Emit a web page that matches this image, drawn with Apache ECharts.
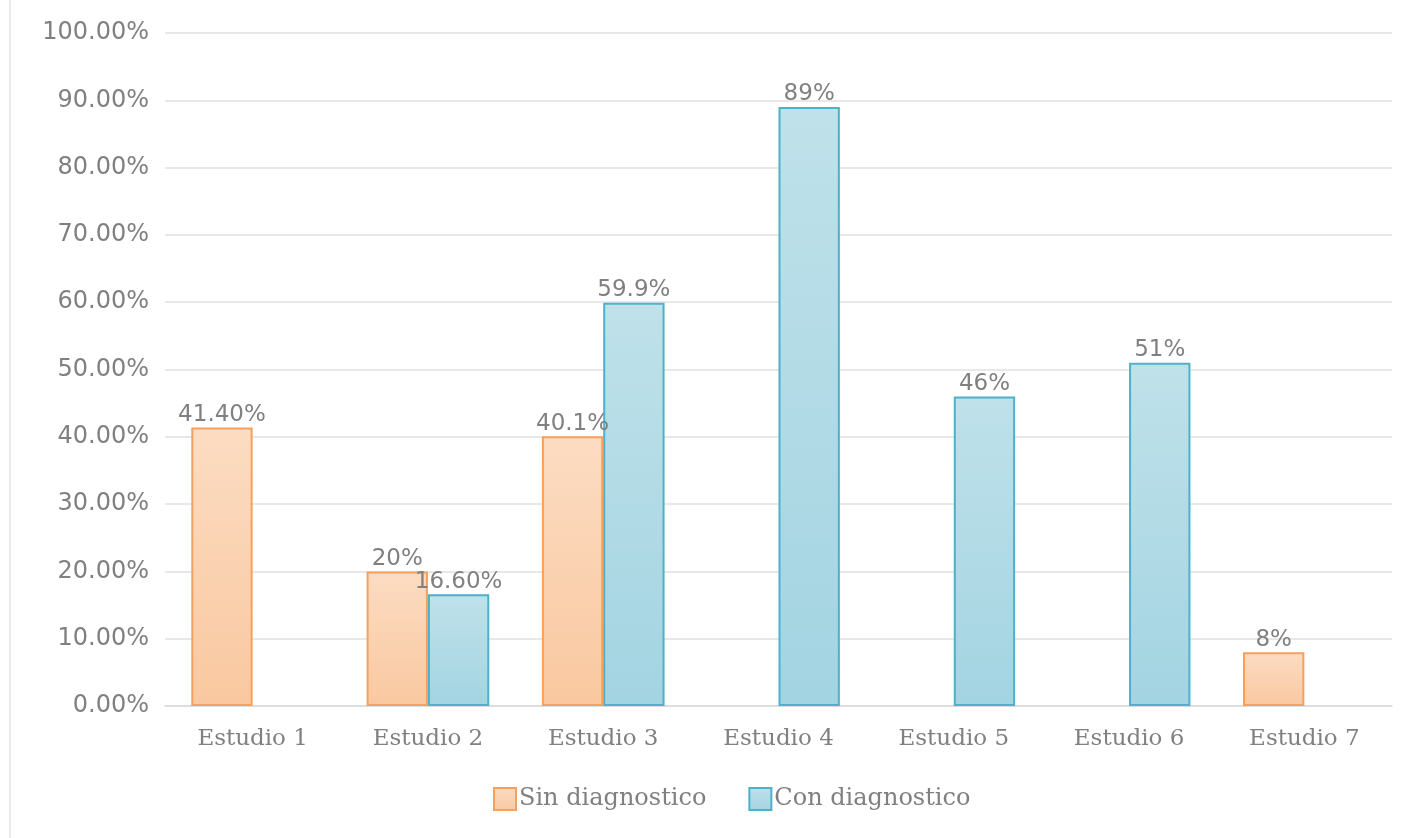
<!DOCTYPE html>
<html><head><meta charset="utf-8">
<script src="https://cdn.jsdelivr.net/npm/echarts@6/dist/echarts.min.js"></script>
<style>html,body{margin:0;padding:0;background:#fff}#c{width:1416px;height:838px}</style>
</head><body><div id="c"></div>
<script>
const categories = ['Estudio 1','Estudio 2','Estudio 3','Estudio 4','Estudio 5','Estudio 6','Estudio 7'];
const sinDiag = [41.4, 20, 40.1, null, null, null, 8];
const conDiag = [null, 16.6, 59.9, 89, 46, 51, null];
const sinLabels = ['41.40%','20%','40.1%','','','','8%'];
const conLabels = ['','16.60%','59.9%','89%','46%','51%',''];

const chart = echarts.init(document.getElementById('c'), null, {renderer:'canvas'});
const grad = (a,b)=>new echarts.graphic.LinearGradient(0,0,0,1,[{offset:0,color:a},{offset:1,color:b}]);
const labelStyle = {show:true, position:'top', distance:1, color:'#808080', fontFamily:'DejaVu Sans', fontSize:23};
chart.setOption({
  animation:false,
  graphic:[{type:'line', shape:{x1:10,y1:0,x2:10,y2:838}, style:{stroke:'#e3e3e3', lineWidth:1.5}}],
  grid:{left:165, right:24, top:33, bottom:132},
  legend:{
    bottom:22, left:488, itemWidth:22, itemHeight:22, itemGap:42, icon:'rect',
    textStyle:{color:'#808080', fontFamily:'DejaVu Serif', fontSize:24, padding:[0,0,0,-2]},
    data:['Sin diagnostico','Con diagnostico']
  },
  xAxis:{
    type:'category', data:categories,
    axisLine:{show:true, lineStyle:{color:'#d9d9d9', width:1.5}},
    axisTick:{show:false},
    axisLabel:{color:'#808080', fontFamily:'DejaVu Serif', fontSize:23, margin:22}
  },
  yAxis:{
    type:'value', min:0, max:100, interval:10,
    axisLine:{show:false}, axisTick:{show:false},
    splitLine:{lineStyle:{color:'#e0e0e0', width:1.5}},
    axisLabel:{color:'#808080', fontFamily:'DejaVu Sans', fontSize:24, margin:16, align:'right',
      formatter:v=>v.toFixed(2)+'%'}
  },
  series:[
    {name:'Sin diagnostico', type:'bar', data:sinDiag, barGap:'0%', barCategoryGap:'30%',
     itemStyle:{color:grad('#fcdcc2','#f9c8a0'), borderColor:'#f5a05c', borderWidth:2},
     label:Object.assign({}, labelStyle, {formatter:p=>sinLabels[p.dataIndex]})},
    {name:'Con diagnostico', type:'bar', data:conDiag, barGap:'0%', barCategoryGap:'30%',
     itemStyle:{color:grad('#bfe1ea','#a3d4e2'), borderColor:'#4fb0c9', borderWidth:2},
     label:Object.assign({}, labelStyle, {formatter:p=>conLabels[p.dataIndex]})}
  ]
});
</script></body></html>
